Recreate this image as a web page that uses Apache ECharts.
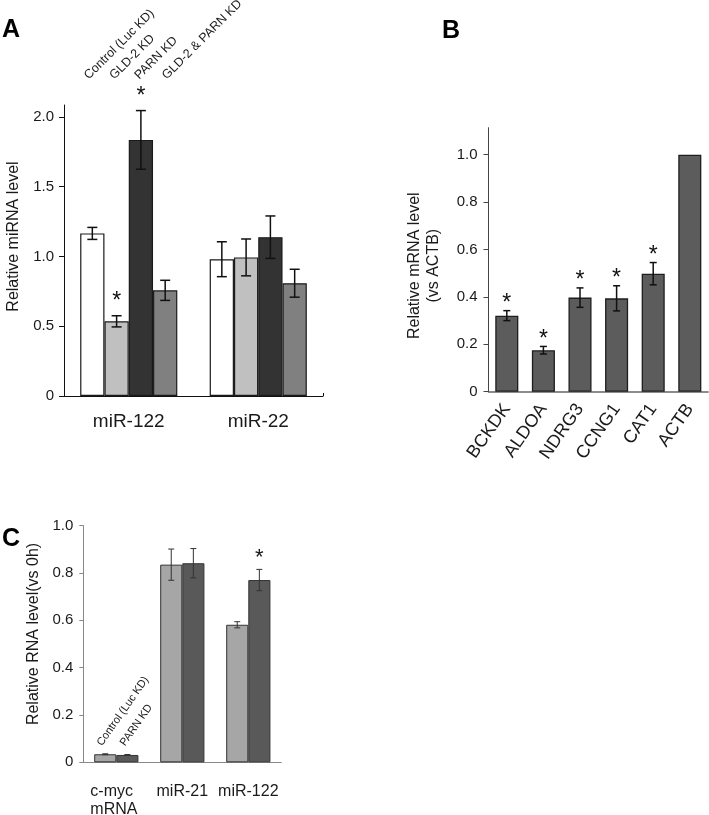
<!DOCTYPE html>
<html>
<head>
<meta charset="utf-8">
<script src="https://cdn.jsdelivr.net/npm/echarts@6/dist/echarts.min.js"></script>
<style>
html,body{margin:0;padding:0;background:#fff;}
#chart{width:709px;height:815px;}
</style>
</head>
<body>
<div id="chart"></div>
<script>
// ---------- Panel A data ----------
const catsA = ['miR-122', 'miR-22'];
const groupsA = ['Control (Luc KD)', 'GLD-2 KD', 'PARN KD', 'GLD-2 & PARN KD'];
const ctrlA = [1.165, 0.980];
const gld2A = [0.535, 0.993];
const parnA = [1.835, 1.138];
const bothA = [0.757, 0.808];
const ctrlAErr = [0.043, 0.125];
const gld2AErr = [0.040, 0.132];
const parnAErr = [0.210, 0.152];
const bothAErr = [0.072, 0.100];
const ctrlAStar = [0, 0];
const gld2AStar = [1, 0];
const parnAStar = [1, 0];
const bothAStar = [0, 0];
const ticksA = [0, 0.5, 1.0, 1.5, 2.0];

// ---------- Panel B data ----------
const genesB = ['BCKDK', 'ALDOA', 'NDRG3', 'CCNG1', 'CAT1', 'ACTB'];
const mrnaB = [0.321, 0.175, 0.397, 0.394, 0.498, 1.0];
const mrnaBErr = [0.021, 0.016, 0.041, 0.053, 0.047, 0];
const mrnaBStar = [1, 1, 1, 1, 1, 0];
const ticksB = [0, 0.2, 0.4, 0.6, 0.8, 1.0];

// ---------- Panel C data ----------
const catsC = ['c-myc\nmRNA', 'miR-21', 'miR-122'];
const groupsC = ['Control (Luc KD)', 'PARN KD'];
const ctrlC = [0.034, 0.835, 0.581];
const parnC = [0.031, 0.841, 0.770];
const ctrlCErr = [0.002, 0.066, 0.013];
const parnCErr = [0.002, 0.062, 0.045];
const ctrlCStar = [0, 0, 0];
const parnCStar = [0, 0, 1];
const ticksC = [0, 0.2, 0.4, 0.6, 0.8, 1.0];

const FONT = '"Liberation Sans", Arial, sans-serif';
const TXT = '#1a1a1a';

function fmt(v) { return v === 0 ? '0' : v.toFixed(1); }

function errData(vals, errs, stars) {
  return vals.map((v, i) => [i, v, errs[i], stars[i]]);
}

function errSeries(ax, vals, errs, stars, cfg) {
  return {
    type: 'custom',
    xAxisIndex: ax, yAxisIndex: ax,
    clip: false,
    z: 10,
    silent: true,
    encode: { x: 0, y: 1 },
    data: errData(vals, errs, stars),
    renderItem: function (params, api) {
      const c = api.value(0), v = api.value(1), e = api.value(2), s = api.value(3);
      const center = api.coord([c, v]);
      const band = api.size([1, 0])[0];
      const bw = band * (1 - cfg.gap) / cfg.n;
      const x = center[0] + (cfg.idx - (cfg.n - 1) / 2) * bw;
      const yTop = api.coord([c, v + e])[1];
      const yBot = api.coord([c, v - e])[1];
      const ls = { stroke: cfg.color, lineWidth: cfg.lw };
      const children = [];
      if (e > 0) {
        children.push({ type: 'line', shape: { x1: x, y1: yTop, x2: x, y2: yBot }, style: ls });
        children.push({ type: 'line', shape: { x1: x - cfg.cap, y1: yTop, x2: x + cfg.cap, y2: yTop }, style: ls });
        children.push({ type: 'line', shape: { x1: x - cfg.cap, y1: yBot, x2: x + cfg.cap, y2: yBot }, style: ls });
      }
      if (s) {
        children.push({
          type: 'text',
          style: {
            text: '*', x: x, y: yTop - cfg.starGap,
            fill: '#111', fontSize: cfg.starSize, fontFamily: FONT,
            align: 'center', verticalAlign: 'middle'
          }
        });
      }
      return { type: 'group', children: children };
    }
  };
}

function barSeries(ax, name, vals, color, border, bw, gap) {
  return {
    type: 'bar', name: name,
    xAxisIndex: ax, yAxisIndex: ax,
    data: vals,
    barGap: '0%', barCategoryGap: gap,
    itemStyle: { color: color, borderColor: border, borderWidth: bw },
    silent: true
  };
}

const chart = echarts.init(document.getElementById('chart'), null, { renderer: 'canvas' });

const cfgA = { n: 4, gap: 0.25, color: '#111', lw: 1.5, cap: 5, starGap: 14, starSize: 23 };
const cfgB = { n: 1, gap: 0.37, color: '#111', lw: 1.5, cap: 3.5, starGap: 7, starSize: 23 };
const cfgC = { n: 2, gap: 0.33, color: '#333', lw: 1, cap: 3, starGap: 11, starSize: 22 };

function rotLabel(text, x, y, deg, size) {
  return {
    type: 'text', x: x, y: y, rotation: deg * Math.PI / 180,
    style: { text: text, fontSize: size, fontFamily: FONT, fill: TXT, align: 'left', verticalAlign: 'bottom' }
  };
}

const option = {
  animation: false,
  backgroundColor: '#ffffff',
  grid: [
    { left: 64, top: 105, width: 259, height: 291, outerBoundsMode: 'none' },
    { left: 488.5, top: 127.7, width: 219.6, height: 264, outerBoundsMode: 'none' },
    { left: 83.3, top: 525.6, width: 198, height: 236.7, outerBoundsMode: 'none' }
  ],
  xAxis: [
    {
      type: 'category', gridIndex: 0, data: catsA,
      axisLine: { lineStyle: { color: '#111', width: 1 } },
      axisTick: { show: true, inside: true, length: 3, interval: function (i) { return i === 1; }, lineStyle: { color: '#111' } },
      axisLabel: { fontSize: 19, margin: 16, color: TXT, fontFamily: FONT },
      splitLine: { show: false }
    },
    {
      type: 'category', gridIndex: 1, data: genesB,
      axisLine: { lineStyle: { color: '#666', width: 1.5 } },
      axisTick: { show: false },
      axisLabel: { fontSize: 18, margin: 14, rotate: 55, interval: 0, color: TXT, fontFamily: FONT },
      splitLine: { show: false }
    },
    {
      type: 'category', gridIndex: 2, data: catsC,
      axisLine: { lineStyle: { color: '#888', width: 1 } },
      axisTick: { show: false },
      axisLabel: {
        fontSize: 16, margin: 20, interval: 0, color: TXT, fontFamily: FONT, lineHeight: 18,
        formatter: function (v) {
          if (v.indexOf('\n') >= 0) {
            return v.split('\n').map(function (s) { return '{l|' + s + '}'; }).join('\n');
          }
          return v;
        },
        rich: { l: { width: 52, align: 'left', fontSize: 16, lineHeight: 18, color: TXT, fontFamily: FONT } }
      },
      splitLine: { show: false }
    }
  ],
  yAxis: [
    {
      type: 'value', gridIndex: 0, min: 0, max: 2.085,
      axisLine: { show: true, lineStyle: { color: '#111', width: 1 } },
      axisTick: { show: true, length: 5, customValues: ticksA, lineStyle: { color: '#111' } },
      axisLabel: { customValues: ticksA, formatter: fmt, fontSize: 15, margin: 10, color: TXT, fontFamily: FONT },
      splitLine: { show: false },
      name: 'Relative miRNA level', nameLocation: 'middle', nameRotate: 90, nameGap: 42,
      nameTextStyle: { fontSize: 16, color: TXT, fontFamily: FONT, padding: [0, 0, 0, 28] }
    },
    {
      type: 'value', gridIndex: 1, min: 0, max: 1.114,
      axisLine: { show: true, lineStyle: { color: '#444', width: 1 } },
      axisTick: { show: true, length: 5, customValues: ticksB, lineStyle: { color: '#444' } },
      axisLabel: { customValues: ticksB, formatter: fmt, fontSize: 15, margin: 11, color: TXT, fontFamily: FONT },
      splitLine: { show: false },
      name: 'Relative mRNA level\n(vs ACTB)', nameLocation: 'middle', nameRotate: 90, nameGap: 45,
      nameTextStyle: { fontSize: 16, lineHeight: 19, color: TXT, fontFamily: FONT, padding: [0, 12, 0, 0] }
    },
    {
      type: 'value', gridIndex: 2, min: 0, max: 1.0, interval: 0.2,
      axisLine: { show: true, lineStyle: { color: '#888', width: 1 } },
      axisTick: { show: true, length: 4, lineStyle: { color: '#888' } },
      axisLabel: { formatter: fmt, fontSize: 15, margin: 10, color: TXT, fontFamily: FONT },
      splitLine: { show: false },
      name: 'Relative RNA level(vs 0h)', nameLocation: 'middle', nameRotate: 90, nameGap: 42,
      nameTextStyle: { fontSize: 16, color: TXT, fontFamily: FONT, padding: [0, 0, 0, 20] }
    }
  ],
  series: [
    barSeries(0, groupsA[0], ctrlA, '#ffffff', '#1a1a1a', 1.2, '25%'),
    barSeries(0, groupsA[1], gld2A, '#c0c0c0', '#1a1a1a', 1.2, '25%'),
    barSeries(0, groupsA[2], parnA, '#333333', '#1a1a1a', 1.2, '25%'),
    barSeries(0, groupsA[3], bothA, '#808080', '#1a1a1a', 1.2, '25%'),
    errSeries(0, ctrlA, ctrlAErr, ctrlAStar, Object.assign({ idx: 0 }, cfgA)),
    errSeries(0, gld2A, gld2AErr, gld2AStar, Object.assign({ idx: 1 }, cfgA)),
    errSeries(0, parnA, parnAErr, parnAStar, Object.assign({ idx: 2 }, cfgA)),
    errSeries(0, bothA, bothAErr, bothAStar, Object.assign({ idx: 3 }, cfgA)),

    barSeries(1, 'mRNA', mrnaB, '#5c5c5c', '#1e1e1e', 1.3, '37%'),
    errSeries(1, mrnaB, mrnaBErr, mrnaBStar, Object.assign({ idx: 0 }, cfgB)),

    barSeries(2, groupsC[0], ctrlC, '#a6a6a6', '#333333', 1, '33%'),
    barSeries(2, groupsC[1], parnC, '#595959', '#333333', 1, '33%'),
    errSeries(2, ctrlC, ctrlCErr, ctrlCStar, Object.assign({ idx: 0 }, cfgC)),
    errSeries(2, parnC, parnCErr, parnCStar, Object.assign({ idx: 1 }, cfgC))
  ],
  graphic: [
    { type: 'text', left: 2, top: 18, style: { text: 'A', font: 'bold 25px ' + FONT, fill: '#000' } },
    { type: 'text', left: 442, top: 19, style: { text: 'B', font: 'bold 25px ' + FONT, fill: '#000' } },
    { type: 'text', left: 2, top: 527, style: { text: 'C', font: 'bold 25px ' + FONT, fill: '#000' } },

    rotLabel(groupsA[0], 91, 82, 45, 12.5),
    rotLabel(groupsA[1], 116.5, 82, 45, 12.5),
    rotLabel(groupsA[2], 141.5, 82, 45, 12.5),
    rotLabel(groupsA[3], 169, 82, 45, 12.5),

    rotLabel(groupsC[0], 104, 748, 55, 11),
    rotLabel(groupsC[1], 127, 748, 55, 11)
  ]
};

chart.setOption(option);
</script>
</body>
</html>
